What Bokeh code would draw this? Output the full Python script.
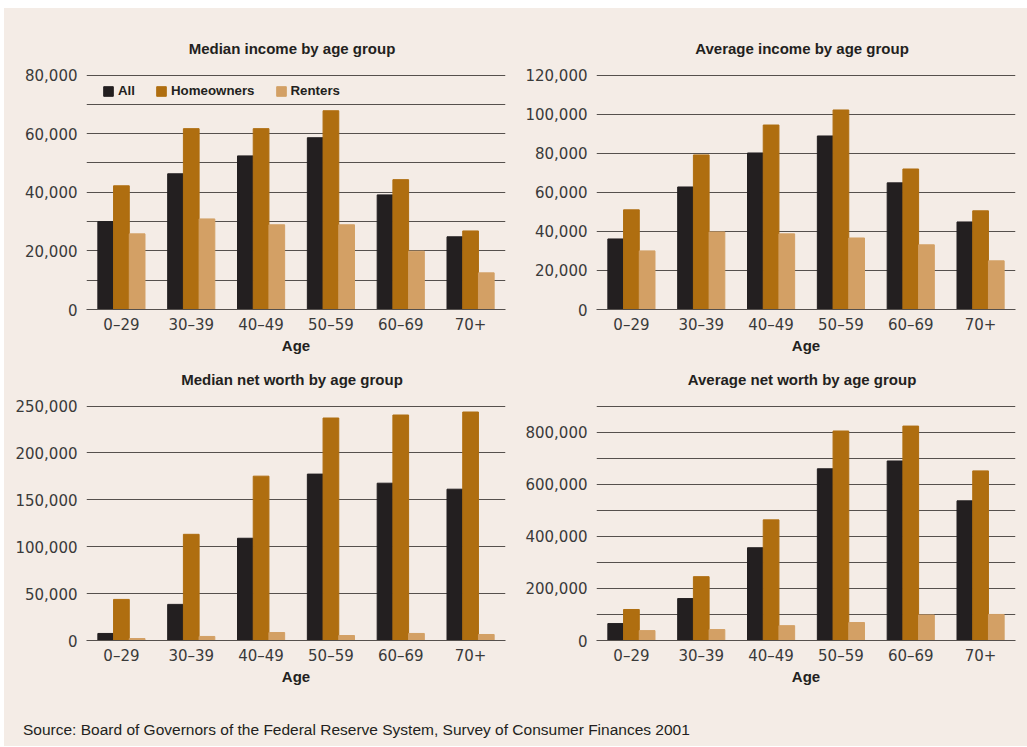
from bokeh.plotting import figure
from bokeh.layouts import column, row
from bokeh.models import (FactorRange, Range1d, FixedTicker, Legend, LegendItem,
                          Label, NumeralTickFormatter, ColumnDataSource)
from bokeh.transform import dodge
from bokeh.embed import file_html
from bokeh.resources import INLINE

# ---------------- data ----------------
ages = ["0–29", "30–39", "40–49", "50–59", "60–69", "70+"]
series_names = ["All", "Homeowners", "Renters"]

median_income_all = [30000, 46300, 52400, 58600, 39100, 24800]
median_income_home = [42200, 61700, 61700, 67800, 44300, 26800]
median_income_rent = [25800, 30900, 28900, 28900, 19900, 12500]

average_income_all = [36100, 62700, 80100, 88800, 64800, 44800]
average_income_home = [51000, 79100, 94400, 102100, 71900, 50500]
average_income_rent = [30000, 39700, 38700, 36600, 33100, 24900]

median_networth_all = [7500, 38500, 109000, 177400, 167700, 161300]
median_networth_home = [43800, 113200, 175200, 237200, 240400, 243600]
median_networth_rent = [2100, 4300, 8500, 5300, 7500, 6400]

average_networth_all = [65000, 161000, 356000, 659000, 689000, 536000]
average_networth_home = [119000, 245000, 463000, 804000, 823000, 651000]
average_networth_rent = [38000, 42000, 57000, 69000, 98000, 100000]

median_income_grid = [0, 10000, 20000, 30000, 40000, 50000, 60000, 70000, 80000]
median_income_labels = [0, 20000, 40000, 60000, 80000]
average_income_grid = [0, 20000, 40000, 60000, 80000, 100000, 120000]
median_networth_grid = [0, 50000, 100000, 150000, 200000, 250000]
average_networth_grid = [0, 100000, 200000, 300000, 400000, 500000, 600000, 700000, 800000, 900000]
average_networth_labels = [0, 200000, 400000, 600000, 800000]

titles = ["Median income by age group", "Average income by age group",
          "Median net worth by age group", "Average net worth by age group"]
source_text = "Source: Board of Governors of the Federal Reserve System, Survey of Consumer Finances 2001"

# ---------------- style ----------------
BG = "#f4ece6"
C_ALL = "#231f20"
C_HOME = "#af6e10"
C_RENT = "#d3a065"
GRID = "#55504d"
TXT = "#3a3a3a"
BAR_W = 0.225
FRAME_W = 419
FRAME_H = 236   # 1.5px of headroom above the top gridline
LEFT_B = {506: 82, 517: 86}


def blank(width, height):
    f = figure(width=width, height=height, output_backend="svg", toolbar_location=None,
               x_range=Range1d(0, 1), y_range=Range1d(0, 1), min_border=0)
    f.axis.visible = False
    f.grid.visible = False
    f.outline_line_color = None
    f.background_fill_color = BG
    f.border_fill_color = BG
    return f


def title_fig(text, width, height, y):
    f = blank(width, height)
    f.add_layout(Label(x=LEFT_B[width] + FRAME_W / 2 - 4, y=y, x_units="screen",
                       y_units="screen", text=text, text_align="center",
                       text_baseline="middle", text_font="Liberation Sans",
                       text_font_size="15px", text_font_style="bold",
                       text_color=C_ALL))
    return f


def make_panel(v_all, v_home, v_rent, ymax, grid_ticks, label_ticks,
               width, height, top, legend=False):
    left = LEFT_B[width]
    right = width - left - FRAME_W
    bottom = height - top - FRAME_H
    src = ColumnDataSource(dict(age=ages, all=v_all, home=v_home, rent=v_rent))
    yend = ymax * FRAME_H / (FRAME_H - 1.5)
    p = figure(width=width, height=height, x_range=FactorRange(*ages),
               y_range=Range1d(0, yend), output_backend="svg",
               toolbar_location=None, min_border_left=left, min_border_right=right,
               min_border_top=top, min_border_bottom=bottom)
    p.background_fill_color = BG
    p.border_fill_color = BG
    p.outline_line_color = None

    r1 = p.vbar(x=dodge("age", -BAR_W, range=p.x_range), top="all", width=BAR_W,
                color=C_ALL, source=src)
    r2 = p.vbar(x=dodge("age", 0, range=p.x_range), top="home", width=BAR_W,
                color=C_HOME, source=src)
    r3 = p.vbar(x=dodge("age", BAR_W, range=p.x_range), top="rent", width=BAR_W,
                color=C_RENT, source=src)

    p.xgrid.grid_line_color = None
    p.ygrid.ticker = FixedTicker(ticks=grid_ticks)
    p.ygrid.grid_line_color = GRID
    p.ygrid.grid_line_width = 1

    p.yaxis.ticker = FixedTicker(ticks=label_ticks)
    p.yaxis.formatter = NumeralTickFormatter(format="0,0")
    p.yaxis.axis_line_color = None
    p.yaxis.major_tick_line_color = None
    p.yaxis.major_tick_out = 0
    p.yaxis.minor_tick_line_color = None
    p.yaxis.major_label_text_font = "DejaVu Sans"
    p.yaxis.major_label_text_font_size = "15px"
    p.yaxis.major_label_text_color = TXT
    p.yaxis.major_label_standoff = 9

    p.xaxis.axis_line_color = GRID
    p.xaxis.major_tick_line_color = None
    p.xaxis.major_tick_out = 0
    p.xaxis.minor_tick_line_color = None
    p.xaxis.major_label_text_font = "DejaVu Sans"
    p.xaxis.major_label_text_font_size = "15px"
    p.xaxis.major_label_text_color = TXT
    p.xaxis.major_label_standoff = 6
    p.xaxis.axis_label = "Age"
    p.xaxis.axis_label_text_font = "Liberation Sans"
    p.xaxis.axis_label_text_font_size = "15px"
    p.xaxis.axis_label_text_font_style = "bold"
    p.xaxis.axis_label_text_color = C_ALL
    p.xaxis.axis_label_standoff = 0

    if legend:
        lg = Legend(items=[LegendItem(label=series_names[0], renderers=[r1]),
                           LegendItem(label=series_names[1], renderers=[r2]),
                           LegendItem(label=series_names[2], renderers=[r3])],
                    orientation="horizontal", location=(16, FRAME_H - 13 - 12),
                    glyph_width=12, glyph_height=12, label_height=12, label_width=0,
                    label_standoff=4, spacing=20, padding=0, margin=0,
                    label_text_font="Liberation Sans", label_text_font_size="13.3px",
                    label_text_font_style="bold", label_text_color=C_ALL,
                    border_line_color=None, background_fill_alpha=0)
        p.add_layout(lg)
    return p


t1 = title_fig(titles[0], 506, 56, 16)
t2 = title_fig(titles[1], 517, 56, 16)
p1 = make_panel(median_income_all, median_income_home, median_income_rent, 80000,
                median_income_grid, median_income_labels, 506, 296, 9, legend=True)
p2 = make_panel(average_income_all, average_income_home, average_income_rent, 120000,
                average_income_grid, average_income_grid, 517, 296, 9)
t3 = title_fig(titles[2], 506, 35, 16)
t4 = title_fig(titles[3], 517, 35, 16)
p3 = make_panel(median_networth_all, median_networth_home, median_networth_rent, 250000,
                median_networth_grid, median_networth_grid, 506, 305, 9)
p4 = make_panel(average_networth_all, average_networth_home, average_networth_rent, 900000,
                average_networth_grid, average_networth_labels, 517, 305, 9)

p5 = blank(1023, 46)
p5.add_layout(Label(x=18.5, y=17, x_units="screen", y_units="screen", text=source_text,
                    text_font="Liberation Sans", text_font_size="15.5px",
                    text_color=C_ALL, text_baseline="middle"))

layout = column(row(t1, t2), row(p1, p2), row(t3, t4), row(p3, p4), p5,
                margin=(8, 0, 0, 4))
layout.styles = {"background-color": BG}

open("out.html", "w").write(file_html(layout, INLINE))
